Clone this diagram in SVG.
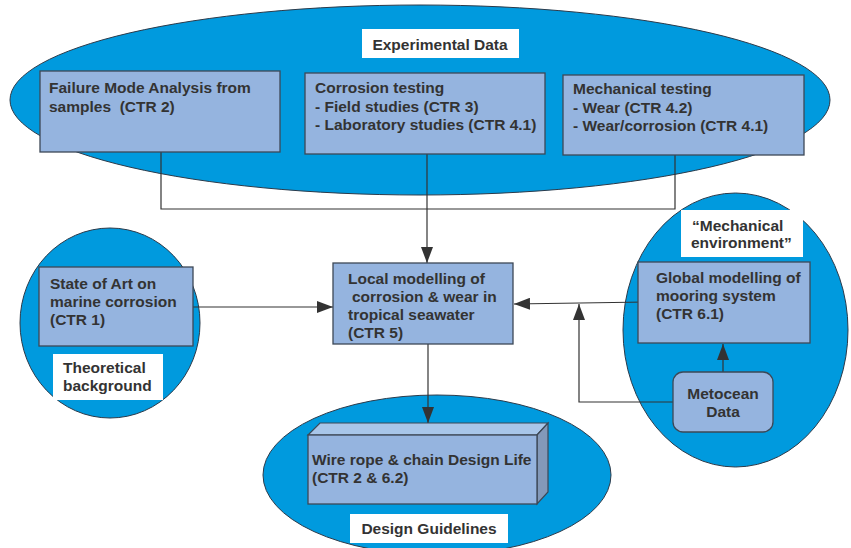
<svg xmlns="http://www.w3.org/2000/svg" width="851" height="548" viewBox="0 0 851 548">
<defs>
<style>
.blob{fill:#009ade;stroke:#2b3a4a;stroke-width:1}
.box{fill:#95b4df;stroke:#3d4856;stroke-width:1.3}
.lbl{fill:#ffffff}
.t{font-family:"Liberation Sans",Arial,sans-serif;font-weight:bold;font-size:15.5px;fill:#333333}
.c{stroke:#333333;stroke-width:1.2;fill:none}
</style>
<marker id="arr" viewBox="0 0 16 12" refX="16" refY="6" markerWidth="16" markerHeight="12" markerUnits="userSpaceOnUse" orient="auto">
<path d="M0,0 L16,6 L0,12 z" fill="#333333"/>
</marker>
</defs>
<rect width="851" height="548" fill="#ffffff"/>

<g id="experimental-data">
<ellipse class="blob" cx="420" cy="100" rx="410" ry="95"/>
<rect class="lbl" x="362" y="29" width="157" height="29"/>
<text class="t" x="440" y="50" text-anchor="middle">Experimental Data</text>
</g>
<g id="theoretical-background">
<ellipse class="blob" cx="110" cy="323" rx="90" ry="95"/>
<rect class="lbl" x="53" y="354" width="110" height="46"/>
<text class="t" x="63" y="373">Theoretical</text>
<text class="t" x="63" y="391">background</text>
</g>
<g id="mechanical-environment">
<ellipse class="blob" cx="735.500" cy="330" rx="112.500" ry="137"/>
<rect class="lbl" x="681" y="210" width="122" height="47"/>
<text class="t" x="692" y="231">“Mechanical</text>
<text class="t" x="691" y="248">environment”</text>
</g>
<g id="design-guidelines">
<ellipse class="blob" cx="437" cy="475" rx="174" ry="80"/>
<rect class="lbl" x="350" y="514" width="158" height="29"/>
<text class="t" x="429" y="534" text-anchor="middle">Design Guidelines</text>
</g>

<g id="connectors">
<polyline class="c" points="161,152 161,209 675,209 675,155"/>
<line class="c" x1="427" y1="154" x2="427" y2="263" marker-end="url(#arr)"/>
<line class="c" x1="193" y1="307" x2="333" y2="307" marker-end="url(#arr)"/>
<line class="c" x1="646" y1="302" x2="514" y2="304" marker-end="url(#arr)"/>
<polyline class="c" points="673,402 579,402 579,304" marker-end="url(#arr)"/>
<line class="c" x1="723" y1="372" x2="723" y2="344" marker-end="url(#arr)"/>
<line class="c" x1="428" y1="344" x2="428" y2="423" marker-end="url(#arr)"/>
</g>

<g id="failure-mode">
<rect class="box" x="40" y="71" width="240" height="81"/>
<text class="t" x="49" y="93">Failure Mode Analysis from</text>
<text class="t" x="49" y="112">samples&#160; (CTR 2)</text>
</g>
<g id="corrosion-testing">
<rect class="box" x="305" y="73" width="240" height="81"/>
<text class="t" x="315" y="93">Corrosion testing</text>
<text class="t" x="315" y="112">- Field studies (CTR 3)</text>
<text class="t" x="315" y="130">- Laboratory studies (CTR 4.1)</text>
</g>
<g id="mechanical-testing">
<rect class="box" x="563" y="75" width="241" height="80"/>
<text class="t" x="573" y="94">Mechanical testing</text>
<text class="t" x="573" y="113">- Wear (CTR 4.2)</text>
<text class="t" x="573" y="131">- Wear/corrosion (CTR 4.1)</text>
</g>
<g id="state-of-art">
<rect class="box" x="39" y="267" width="154" height="79"/>
<text class="t" x="50" y="289">State of Art on</text>
<text class="t" x="50" y="307">marine corrosion</text>
<text class="t" x="50" y="325">(CTR 1)</text>
</g>
<g id="local-modelling">
<rect class="box" x="333" y="263" width="180" height="81"/>
<text class="t" x="348" y="284">Local modelling of</text>
<text class="t" x="352" y="302">corrosion &amp; wear in</text>
<text class="t" x="348" y="320">tropical seawater</text>
<text class="t" x="348" y="338">(CTR 5)</text>
</g>
<g id="global-modelling">
<rect class="box" x="638" y="262" width="172" height="81"/>
<text class="t" x="656" y="283">Global modelling of</text>
<text class="t" x="656" y="301">mooring system</text>
<text class="t" x="656" y="319">(CTR 6.1)</text>
</g>
<g id="metocean-data">
<rect class="box" x="673" y="372" width="100" height="60" rx="10" ry="10"/>
<text class="t" x="723" y="399" text-anchor="middle">Metocean</text>
<text class="t" x="723" y="417" text-anchor="middle">Data</text>
</g>
<g id="design-life">
<polygon points="308,435 320,423 548,423 537,435" fill="#a8c6e9" stroke="#3d4856" stroke-width="1.2"/>
<polygon points="537,435 548,423 548,492 537,504" fill="#8399b9" stroke="#3d4856" stroke-width="1.2"/>
<rect class="box" x="308" y="435" width="229" height="69"/>
<text class="t" x="312" y="465">Wire rope &amp; chain Design Life</text>
<text class="t" x="312" y="483">(CTR 2 &amp; 6.2)</text>
</g>
</svg>
